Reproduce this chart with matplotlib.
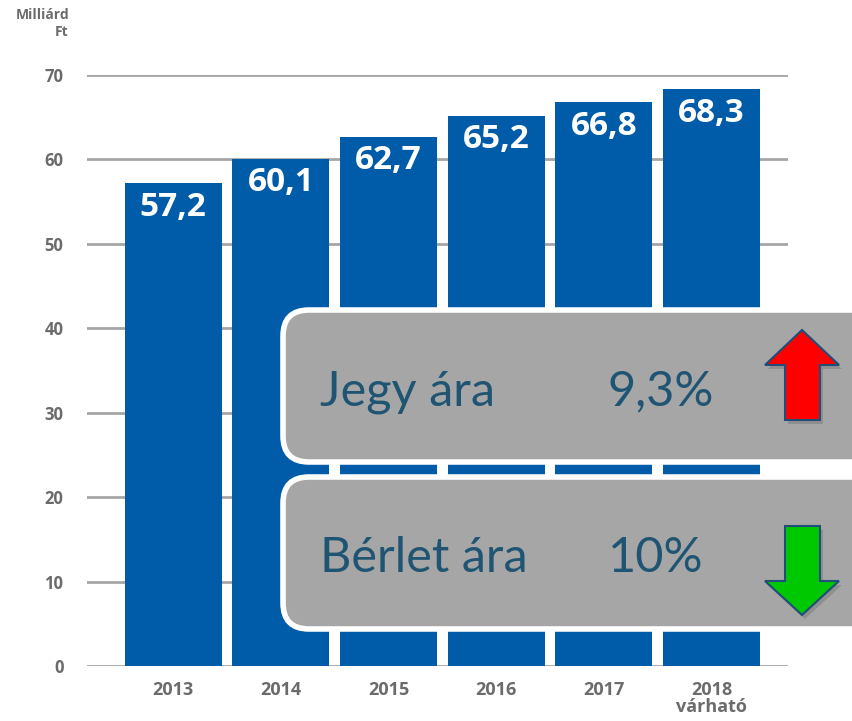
import matplotlib.pyplot as plt
from matplotlib.patches import FancyBboxPatch, Polygon

years = ['2013', '2014', '2015', '2016', '2017', '2018\nvárható']
values = [57.2, 60.1, 62.7, 65.2, 66.8, 68.3]
value_labels = ['57,2', '60,1', '62,7', '65,2', '66,8', '68,3']
yticks = [0, 10, 20, 30, 40, 50, 60, 70]
box_items = [('Jegy ára', '9,3%', 'up'), ('Bérlet ára', '10%', 'down')]

bar_color = '#005ba8'
grid_color = '#a6a6a6'
tick_color = '#6b6b6b'
text_dark = '#1f5573'

plt.rcParams['font.family'] = ['Open Sans', 'DejaVu Sans']

fig = plt.figure(figsize=(8.53, 7.21), dpi=100)
ax = fig.add_axes([87 / 853, 1 - 666 / 721, (788 - 87) / 853, (666 - 75) / 721])

x = list(range(len(years)))
ax.bar(x, values, width=0.9, color=bar_color, zorder=2)
for xi, v, lab in zip(x, values, value_labels):
    ax.text(xi, v - 0.9, lab, ha='center', va='top', color='white',
            fontsize=24, fontweight='bold', zorder=3)

ax.set_xlim(-0.80, 5.71)
ax.set_ylim(0, 70)
ax.set_yticks(yticks)
ax.set_yticklabels([str(t) for t in yticks])
ax.set_xticks(x)
ax.set_xticklabels(years, linespacing=0.9)
ax.yaxis.grid(True, color=grid_color, linewidth=2, zorder=0)
ax.set_axisbelow(True)
ax.tick_params(axis='both', length=0, colors=tick_color)
ax.tick_params(axis='y', pad=17, labelsize=12)
ax.tick_params(axis='x', pad=11, labelsize=13)
for lbl in ax.get_xticklabels() + ax.get_yticklabels():
    lbl.set_fontweight('bold')
for s in ax.spines.values():
    s.set_visible(False)

fig.text(69 / 853, 1 - 8 / 721, 'Milliárd\nFt', ha='right', va='top',
         color=tick_color, fontsize=10, fontweight='bold', linespacing=1.3)

# overlay in pixel coordinates
ov = fig.add_axes([0, 0, 1, 1], facecolor='none')
ov.set_xlim(0, 853)
ov.set_ylim(721, 0)
ov.axis('off')

box_tops = [310, 477]
for top, (name, pct, direction) in zip(box_tops, box_items):
    ov.add_patch(FancyBboxPatch((283, top), 620, 152,
                                boxstyle='round,pad=0,rounding_size=26',
                                facecolor='#a6a6a6', edgecolor='white',
                                linewidth=4, zorder=5))
    base = top + 95
    ov.text(320, base, name, ha='left', va='baseline', color=text_dark,
            fontsize=35, family=['Lato', 'DejaVu Sans'], zorder=6)
    ov.text(608, base, pct, ha='left', va='baseline', color=text_dark,
            fontsize=35, family=['Lato', 'DejaVu Sans'], zorder=6)
    if direction == 'up':
        pts = [(802, top + 20), (839, top + 55), (820, top + 55), (820, top + 110),
               (785, top + 110), (785, top + 55), (765, top + 55)]
        fc = '#ff0000'
    else:
        pts = [(785, top + 49), (820, top + 49), (820, top + 104), (839, top + 104),
               (802, top + 138), (765, top + 104), (785, top + 104)]
        fc = '#00c800'
    shadow = [(px + 3, py + 4) for px, py in pts]
    ov.add_patch(Polygon(shadow, closed=True, facecolor='#808080',
                         edgecolor='none', alpha=0.6, zorder=6))
    ov.add_patch(Polygon(pts, closed=True, facecolor=fc, edgecolor='#1f4e79',
                         linewidth=1.5, zorder=7))

fig.savefig('out.png', dpi=100)
